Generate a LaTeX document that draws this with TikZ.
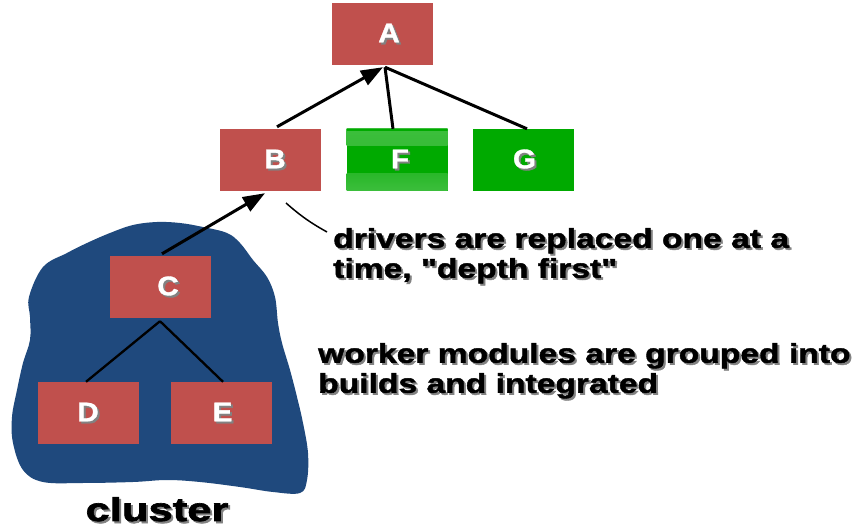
\documentclass[tikz,border=0pt]{standalone}
\usepackage{fontspec}
\setmainfont{Liberation Sans}
\newfontfamily\lblfont[FakeStretch=1.245, FakeBold=1.6]{Liberation Sans Bold}
\newfontfamily\letfont[FakeStretch=1.1, FakeBold=1.2]{Liberation Sans Bold}
\newfontfamily\clufont[FakeStretch=1.32, FakeBold=2]{Liberation Sans Bold}
\usetikzlibrary{arrows.meta}
\definecolor{boxred}{RGB}{192,80,77}
\definecolor{boxgreen}{RGB}{0,170,0}
\definecolor{lightgreen}{RGB}{60,190,60}
\definecolor{blobblue}{RGB}{31,73,125}
\definecolor{shadegray}{RGB}{130,130,130}
\newcommand\shtxt[3]{\makebox[0pt][l]{\hspace{2pt}\raisebox{-2pt}{\color{#1}#3}}{\color{#2}#3}}
\newcommand\boxlbl[2]{\hspace*{#1}\shtxt{shadegray}{white}{#2}}
\tikzset{
  modbox/.style={minimum width=101pt, minimum height=62pt, inner sep=0pt,
    font=\letfont\fontsize{27}{29}\selectfont},
  redbox/.style={modbox, fill=boxred},
  greenbox/.style={modbox, fill=boxgreen},
  bandbox/.style={greenbox, path picture={
    \shade[top color=lightgreen, bottom color=lightgreen!70!boxgreen] (path picture bounding box.north west) rectangle ([yshift=-17pt]path picture bounding box.north east);
    \shade[top color=lightgreen!70!boxgreen, bottom color=lightgreen] (path picture bounding box.south west) rectangle ([yshift=17pt]path picture bounding box.south east);
    \fill[boxgreen] (path picture bounding box.north west) rectangle ([yshift=-2pt]path picture bounding box.north east);
  }},
  thickline/.style={line width=3pt, black},
  thinline/.style={line width=2.3pt, black},
  arrowline/.style={thickline, -{Triangle[length=22pt,width=16pt]}},
  note/.style={inner sep=0pt, align=left, anchor=north west,
    font=\lblfont\fontsize{27}{30}\selectfont},
}
\begin{document}
\begin{tikzpicture}[x=1pt, y=-1pt]
\fill[white] (0,0) rectangle (855,529);
\useasboundingbox (0,0) rectangle (855,529);
% cluster blob
\fill[blobblue] plot[smooth cycle, tension=0.6] coordinates {
 (29,297) (43,267) (67,253) (87,243) (110,233) (133,225) (157,222) (180,223)
 (203,227) (227,233) (240,243) (253,260) (267,277) (275,297) (278,323)
 (282,343) (290,370) (297,397) (303,423) (308,453) (307,480) (300,493)
 (273,492) (240,487) (200,482) (167,480) (133,482) (83,483) (43,482)
 (23,470) (13,443) (12,417) (17,390) (23,363) (30,340) (30,317)};
% modules
\node[redbox] (A) at (382,34) {\boxlbl{14pt}{A}};
\node[redbox] (B) at (270,160) {\boxlbl{10pt}{B}};
\node[bandbox] (F) at (397,160) {\boxlbl{6pt}{F}};
\node[greenbox] (G) at (523,160) {\boxlbl{3pt}{G}};
\node[redbox] (C) at (160,287) {\boxlbl{16pt}{C}};
\node[redbox] (D) at (88,413) {\boxlbl{0pt}{D}};
\node[redbox] (E) at (221,413) {\boxlbl{3pt}{E}};
% connectors
\draw[thickline] ([xshift=-4pt]F.north) -- ([xshift=3pt,yshift=-2pt]A.south);
\draw[thickline] ([xshift=4pt]G.north) -- ([xshift=3pt,yshift=-2pt]A.south);
\draw[arrowline] ([xshift=7pt,yshift=2pt]B.north) -- ([xshift=1pt,yshift=-2pt]A.south);
\draw[arrowline] ([xshift=2pt,yshift=2pt]C.north) -- ([xshift=-5pt,yshift=-2pt]B.south);
\draw[thinline] ([yshift=-3pt]C.south) -- ([xshift=-2pt]D.north);
\draw[thinline] ([yshift=-3pt]C.south) -- ([xshift=2pt]E.north);
% callout
\coordinate (c1) at (286,203);
\coordinate (c2) at (327,232);
\draw[line width=1.5pt] (c1) to[bend right=6] (c2);
% texts
\node[note] (t1) at (333,228) {\shtxt{shadegray}{black}{drivers are replaced one at a}\\
  \shtxt{shadegray}{black}{time, "depth first"}};
\node[note] (t2) at (318,343) {\shtxt{shadegray}{black}{worker modules are grouped into}\\
  \shtxt{shadegray}{black}{builds and integrated}};
\node[inner sep=0pt, anchor=base, font=\clufont\fontsize{33}{36}\selectfont] (cl) at (157,521)
  {\shtxt{shadegray}{black}{cluster}};
\end{tikzpicture}
\end{document}
